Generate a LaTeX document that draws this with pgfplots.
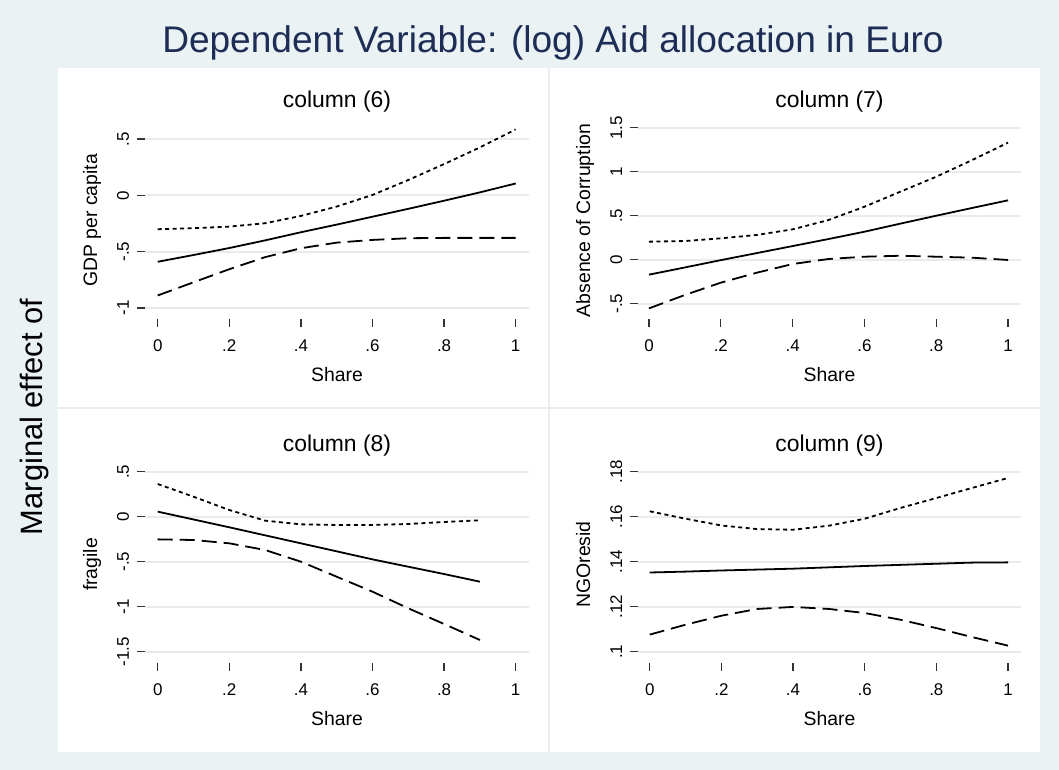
\documentclass[border=0pt]{standalone}
\usepackage{pgfplots}
\pgfplotsset{compat=1.18}
\usepackage{fontspec}
\setmainfont{Liberation Sans}
\definecolor{bgc}{RGB}{234,242,243}
\definecolor{navy}{RGB}{30,45,85}
\definecolor{gridc}{RGB}{234,234,234}
\definecolor{divc}{RGB}{236,236,236}

\pgfplotstableread{
x up mid lo
0   -0.301 -0.590 -0.889
0.1 -0.292 -0.530 -0.772
0.2 -0.278 -0.468 -0.656
0.3 -0.248 -0.400 -0.549
0.4 -0.183 -0.328 -0.470
0.5 -0.100 -0.260 -0.420
0.6  0.003 -0.190 -0.396
0.7  0.136 -0.120 -0.381
0.8  0.277 -0.048 -0.378
0.9  0.425  0.026 -0.378
1.0  0.585  0.105 -0.378
}\tabA

\pgfplotstableread{
x up mid lo
0    0.205 -0.170 -0.553
0.1  0.212 -0.088 -0.401
0.2  0.243 -0.005 -0.261
0.3  0.281  0.075 -0.148
0.4  0.345  0.155 -0.049
0.5  0.451  0.235  0.008
0.6  0.602  0.318  0.034
0.7  0.773  0.410  0.045
0.8  0.943  0.500  0.034
0.9  1.133  0.588  0.023
1.0  1.330  0.675 -0.003
}\tabB

\pgfplotstableread{
x up mid lo
0    0.363  0.056 -0.252
0.1  0.222 -0.031 -0.259
0.2  0.074 -0.118 -0.296
0.3 -0.044 -0.207 -0.370
0.4 -0.085 -0.296 -0.500
0.5 -0.092 -0.385 -0.667
0.6 -0.092 -0.474 -0.833
0.7 -0.081 -0.556 -1.018
0.8 -0.059 -0.637 -1.192
0.9 -0.040 -0.722 -1.370
}\tabC

\pgfplotstableread{
x up mid lo
0    0.1624 0.1352 0.1076
0.1  0.1591 0.1356 0.1120
0.2  0.1561 0.1361 0.1160
0.3  0.1545 0.1365 0.1190
0.4  0.1542 0.1369 0.1199
0.5  0.1560 0.1375 0.1190
0.6  0.1591 0.1381 0.1172
0.7  0.1639 0.1386 0.1142
0.8  0.1683 0.1391 0.1105
0.9  0.1728 0.1396 0.1065
1.0  0.1772 0.1397 0.1027
}\tabD

\pgfplotsset{
  stata/.style={
    scale only axis, width=384bp, height=197bp,
    axis line style={draw=none},
    tick align=outside, tick pos=left,
    major tick length=8bp,
    tick style={line width=1.3bp, color=black!80},
    ymajorgrids, grid style={line width=1.8bp, color=gridc},
    xtick={0,0.2,0.4,0.6,0.8,1}, xticklabels={0,.2,.4,.6,.8,1},
    ticklabel style={font=\fontsize{17}{17}\selectfont, inner sep=0pt, outer sep=0pt},
    xticklabel style={anchor=base, yshift=-24bp},
    yticklabel style={xshift=-8bp, rotate=90, anchor=base},
    every axis y label/.style={at={(axis description cs:0,0.5)}, xshift=-48bp, rotate=90, anchor=base, font=\fontsize{19.5}{20}\selectfont},
    every axis x label/.style={at={(axis description cs:0.5,0)}, yshift=-62bp, anchor=base, font=\fontsize{19.5}{20}\selectfont},
    every axis title/.style={at={(axis description cs:0.5,1)}, yshift=14.7bp, anchor=base, font=\fontsize{23}{24}\selectfont},
    xlabel={Share},
  },
  mid/.style={black, line width=1.8bp, solid},
  up/.style={black, line width=1.8bp, dash pattern=on 4bp off 3.5bp},
  lo/.style={black, line width=1.8bp, dash pattern=on 15bp off 7bp},
}

\begin{document}
\begin{tikzpicture}
\path[use as bounding box, fill=bgc] (0,0) rectangle (1059bp,-770bp);
\fill[white] (58bp,-68bp) rectangle (1040bp,-752bp);
\draw[divc, line width=2bp] (549bp,-68bp) -- (549bp,-752bp);
\draw[divc, line width=2bp] (58bp,-408bp) -- (1040bp,-408bp);
\node[anchor=base, text=navy, font=\fontsize{37.2}{40}\selectfont] at (553bp,-52.3bp) {Dependent Variable: (log) Aid allocation in Euro};
\node[rotate=90, anchor=base, font=\fontsize{31}{34}\selectfont] at (42bp,-417bp) {Marginal effect of};

\begin{axis}[stata, at={(145bp,-319bp)}, anchor=south west,
  xmin=-0.0355, xmax=1.0372, ymin=-1.098, ymax=0.6506,
  ytick={-1,-0.5,0,0.5}, yticklabels={-1,-.5,0,.5},
  ylabel={GDP per capita}, title={column (6)}]
\addplot[up] table[x=x,y=up] {\tabA};
\addplot[lo] table[x=x,y=lo] {\tabA};
\addplot[mid] table[x=x,y=mid] {\tabA};
\end{axis}

\begin{axis}[stata, width=383bp, at={(638bp,-319bp)}, anchor=south west,
  xmin=-0.0306, xmax=1.036, ymin=-0.674, ymax=1.565,
  ytick={-0.5,0,0.5,1,1.5}, yticklabels={-.5,0,.5,1,1.5},
  ylabel={Absence of Corruption}, title={column (7)}]
\addplot[up] table[x=x,y=up] {\tabB};
\addplot[lo] table[x=x,y=lo] {\tabB};
\addplot[mid] table[x=x,y=mid] {\tabB};
\end{axis}

\begin{axis}[stata, at={(145bp,-663bp)}, anchor=south west,
  xmin=-0.0355, xmax=1.0372, ymin=-1.6256, ymax=0.563,
  ytick={-1.5,-1,-0.5,0,0.5}, yticklabels={-1.5,-1,-.5,0,.5},
  ylabel={fragile}, title={column (8)}]
\addplot[up] table[x=x,y=up] {\tabC};
\addplot[lo] table[x=x,y=lo] {\tabC};
\addplot[mid] table[x=x,y=mid] {\tabC};
\end{axis}

\begin{axis}[stata, width=383bp, at={(638bp,-663bp)}, anchor=south west,
  xmin=-0.0327, xmax=1.0363, ymin=0.09498, ymax=0.18253,
  ytick={0.1,0.12,0.14,0.16,0.18}, yticklabels={.1,.12,.14,.16,.18},
  ylabel={NGOresid}, title={column (9)}]
\addplot[up] table[x=x,y=up] {\tabD};
\addplot[lo] table[x=x,y=lo] {\tabD};
\addplot[mid] table[x=x,y=mid] {\tabD};
\end{axis}
\end{tikzpicture}
\end{document}
